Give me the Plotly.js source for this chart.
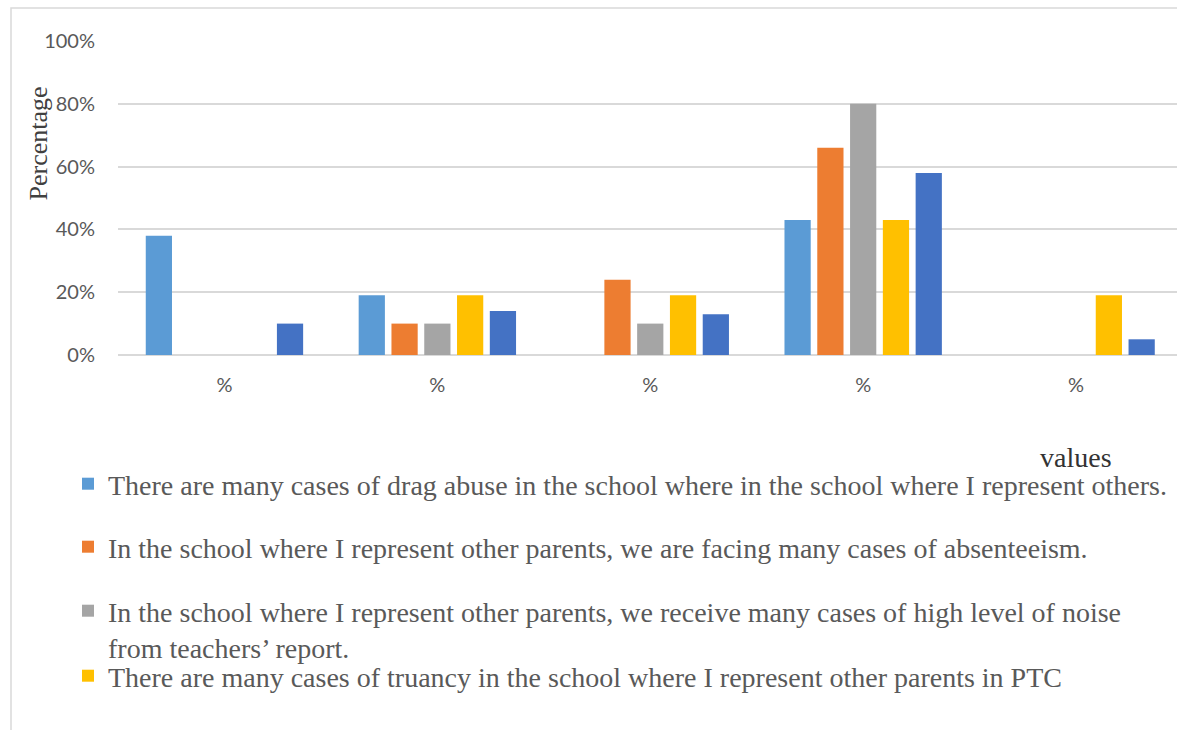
<!DOCTYPE html>
<html>
<head>
<meta charset="utf-8">
<script src="https://cdn.plot.ly/plotly-3.0.1.min.js"></script>
<style>
  html, body { margin: 0; padding: 0; background: #ffffff; }
  #chart { width: 1177px; height: 730px; }
</style>
</head>
<body>
<div id="chart"></div>
<script>
// ---- Data ----
const categories = ['%', '%', '%', '%', '%'];

const seriesNames = [
  'There are many cases of drag abuse in the school where in the school where I represent others.',
  'In the school where I represent other parents, we are facing many cases of absenteeism.',
  'In the school where I represent other parents, we receive many cases of high level of noise<br>from teachers\u2019 report.',
  'There are many cases of truancy in the school where I represent other parents in PTC',
  'Other cases'
];

const drugAbuse   = [38, 19, 0, 43, 0];
const absenteeism = [0, 10, 24, 66, 0];
const noise       = [0, 10, 10, 80, 0];
const truancy     = [0, 19, 19, 43, 19];
const otherCases  = [10, 14, 13, 58, 5];

const yTickVals = [0, 20, 40, 60, 80, 100];

// ---- Styling ----
const colors = ['#5B9BD5', '#ED7D31', '#A5A5A5', '#FFC000', '#4472C4'];
const seriesValues = [drugAbuse, absenteeism, noise, truancy, otherCases];
const legendIds = ['legend', 'legend2', 'legend3', 'legend4', null];
const xIdx = categories.map((_, i) => i);

const traces = seriesValues.map((vals, k) => {
  const t = {
    type: 'bar',
    x: xIdx,
    y: vals,
    name: seriesNames[k],
    marker: { color: colors[k], line: { width: 0 } },
    hoverinfo: 'y+name'
  };
  if (legendIds[k]) { t.legend = legendIds[k]; t.showlegend = true; }
  else { t.showlegend = false; }
  return t;
});

const W = 1177, H = 730;
const legendFont = { family: '"Liberation Serif", "Times New Roman", serif', size: 28, color: '#595959' };
function legendAt(textTopPx, valign) {
  return {
    xref: 'container', yref: 'container',
    x: 68 / W, y: 1 - textTopPx / H,
    xanchor: 'left', yanchor: 'top',
    font: legendFont,
    bgcolor: 'rgba(0,0,0,0)', borderwidth: 0,
    valign: valign || 'middle',
    itemclick: false, itemdoubleclick: false
  };
}

const layout = {
  width: W, height: H,
  margin: { l: 118, r: 0, t: 41, b: 375, pad: 0, autoexpand: false },
  paper_bgcolor: '#ffffff',
  plot_bgcolor: '#ffffff',
  font: { family: 'Lato, "Open Sans", sans-serif', size: 20, color: '#595959' },
  barmode: 'group',
  bargap: 0.23,
  bargroupgap: 0.2,
  xaxis: {
    range: [-0.5, 4.474],
    tickmode: 'array',
    tickvals: xIdx,
    ticktext: categories,
    ticks: 'outside', ticklen: 12, tickcolor: 'rgba(0,0,0,0)',
    showgrid: false, zeroline: false, showline: false,
    tickfont: { size: 20, color: '#595959' },
    automargin: false,
    fixedrange: true
  },
  yaxis: {
    range: [0, 100],
    tickmode: 'array',
    tickvals: yTickVals,
    ticktext: yTickVals.map(v => v + '%'),
    ticks: 'outside', ticklen: 18, tickcolor: 'rgba(0,0,0,0)',
    showgrid: true, gridcolor: '#d9d9d9', gridwidth: 1.5,
    zeroline: true, zerolinecolor: '#d9d9d9', zerolinewidth: 1.5,
    showline: false,
    tickfont: { size: 20, color: '#595959' },
    automargin: false,
    fixedrange: true
  },
  legend: legendAt(459),
  legend2: legendAt(522),
  legend3: legendAt(586, 'top'),
  legend4: legendAt(651),
  shapes: [{
    type: 'rect', xref: 'paper', yref: 'paper', layer: 'below',
    x0: (11 - 118) / 1059, x1: 1.05,
    y0: -1.3, y1: 1 + (41 - 8) / 314,
    line: { color: '#d9d9d9', width: 1.5 },
    fillcolor: 'rgba(0,0,0,0)'
  }],
  annotations: [
    {
      text: 'Percentage', textangle: -90,
      xref: 'paper', yref: 'paper',
      x: (38 - 118) / 1059, y: (354.5 - 143) / 314,
      xanchor: 'center', yanchor: 'middle', showarrow: false,
      font: { family: '"Liberation Serif", "Times New Roman", serif', size: 26, color: '#404040' }
    },
    {
      text: 'values',
      xref: 'paper', yref: 'paper',
      x: (1075.5 - 118) / 1059, y: (354.5 - 457) / 314,
      xanchor: 'center', yanchor: 'middle', showarrow: false,
      font: { family: '"Liberation Serif", "Times New Roman", serif', size: 28, color: '#333333' }
    }
  ]
};

Plotly.newPlot('chart', traces, layout, { displayModeBar: false, staticPlot: false });
</script>
</body>
</html>
